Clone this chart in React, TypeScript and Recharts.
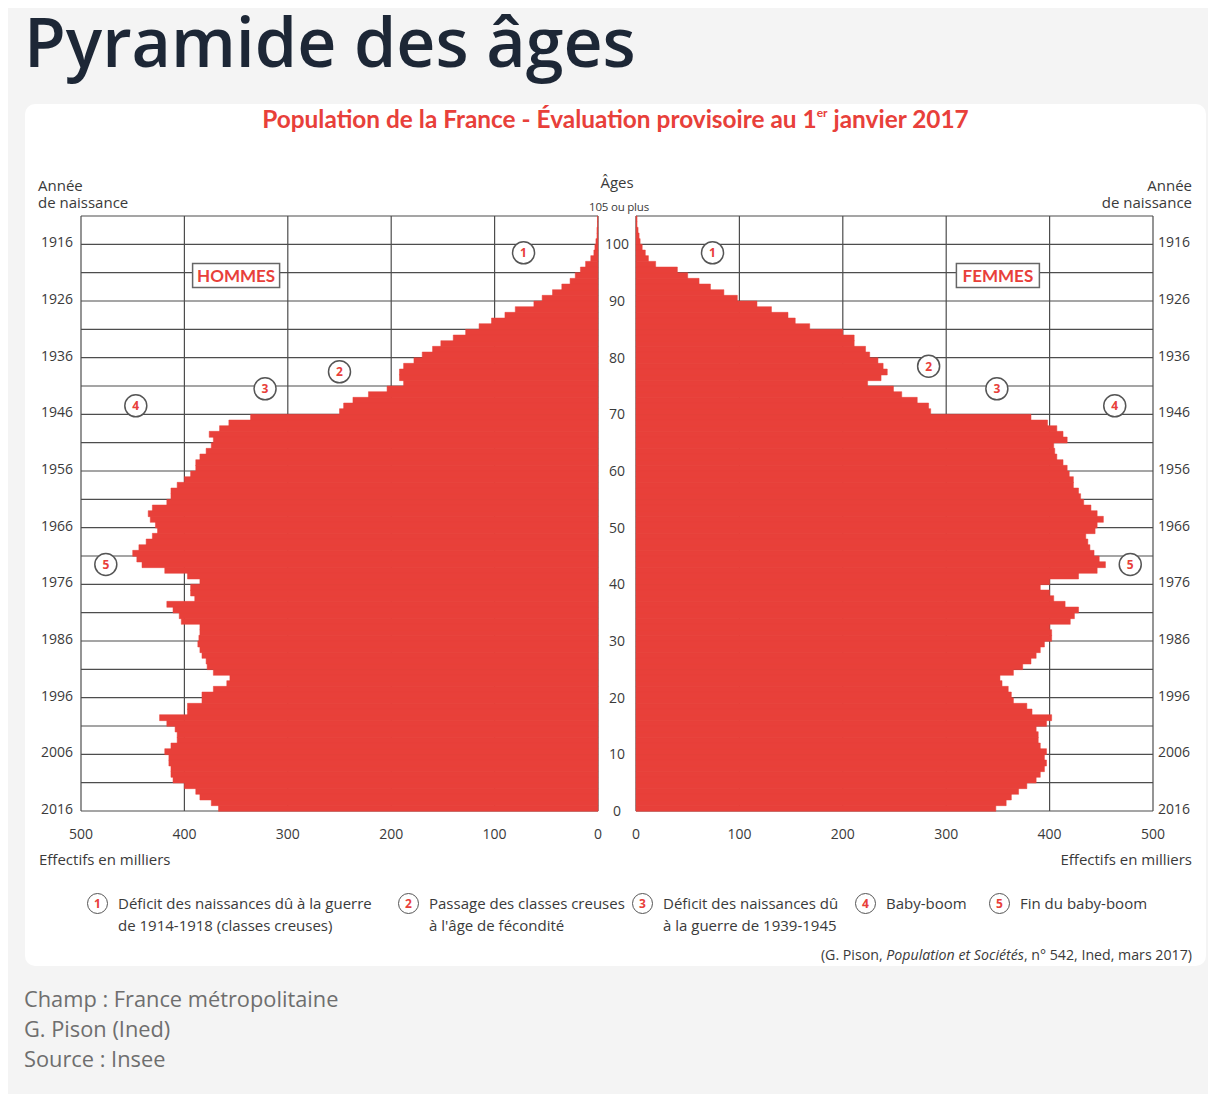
import React from 'react';
import { BarChart, Bar, XAxis, YAxis, CartesianGrid, ReferenceDot } from 'recharts';

// ---------- DATA ----------
const ages = [
  0, 1, 2, 3, 4, 5, 6, 7, 8, 9, 10, 11, 12, 13, 14, 15, 16, 17, 18, 19,
  20, 21, 22, 23, 24, 25, 26, 27, 28, 29, 30, 31, 32, 33, 34, 35, 36, 37, 38, 39,
  40, 41, 42, 43, 44, 45, 46, 47, 48, 49, 50, 51, 52, 53, 54, 55, 56, 57, 58, 59,
  60, 61, 62, 63, 64, 65, 66, 67, 68, 69, 70, 71, 72, 73, 74, 75, 76, 77, 78, 79,
  80, 81, 82, 83, 84, 85, 86, 87, 88, 89, 90, 91, 92, 93, 94, 95, 96, 97, 98, 99,
  100, 101, 102, 103, 104,
];

// Effectifs en milliers (hommes), âge 0 -> 104
const hommes = [
  367, 374, 385, 389, 400, 411, 413, 413, 415, 415,
  419, 413, 407, 407, 409, 417, 424, 397, 397, 383,
  383, 372, 359, 356, 372, 378, 379, 383, 385, 387,
  386, 385, 385, 403, 405, 411, 417, 390, 394, 394,
  385, 397, 419, 441, 446, 450, 444, 437, 431, 426,
  428, 433, 435, 431, 417, 413, 413, 407, 400, 394,
  389, 389, 385, 379, 374, 372, 376, 366, 357, 336,
  250, 246, 237, 222, 204, 188, 192, 192, 188, 178,
  170, 160, 152, 140, 128, 115, 103, 90, 80, 62,
  54, 44, 35, 27, 22, 17, 12, 7, 4, 3,
  2, 1, 1, 0.5, 0.5,
];

// Effectifs en milliers (femmes), âge 0 -> 104
const femmes = [
  348, 358, 363, 370, 378, 387, 391, 395, 397, 395,
  397, 391, 389, 389, 387, 397, 402, 383, 378, 365,
  363, 360, 354, 352, 365, 374, 382, 387, 391, 395,
  402, 402, 400, 420, 424, 428, 415, 404, 400, 391,
  400, 428, 446, 454, 448, 443, 439, 437, 435, 444,
  446, 452, 446, 440, 433, 430, 428, 423, 423, 419,
  417, 413, 407, 405, 404, 417, 413, 407, 398, 382,
  285, 283, 272, 257, 249, 224, 237, 243, 239, 234,
  226, 222, 211, 211, 200, 168, 154, 147, 131, 117,
  98, 85, 72, 61, 50, 40, 19, 12, 9, 6,
  4, 3, 2, 1, 1,
];

const xTicks = [0, 100, 200, 300, 400, 500];
const ageGridLines = [0, 5, 10, 15, 20, 25, 30, 35, 40, 45, 50, 55, 60, 65, 70, 75, 80, 85, 90, 95, 100, 105];
const REF_YEAR = 2016;

// Annotations: age band (category) on which the marker is centred
const notesHommes = [
  { n: 1, value: 72, age: 98 },
  { n: 2, value: 250, age: 77 },
  { n: 3, value: 322, age: 74 },
  { n: 4, value: 447, age: 71 },
  { n: 5, value: 476, age: 43 },
];
const notesFemmes = [
  { n: 1, value: 74, age: 98 },
  { n: 2, value: 283, age: 78 },
  { n: 3, value: 349, age: 74 },
  { n: 4, value: 463, age: 71 },
  { n: 5, value: 478, age: 43 },
];
const sexLabels = [
  { text: 'HOMMES', value: 350, age: 94, w: 87 },
  { text: 'FEMMES', value: 350, age: 94, w: 83 },
];

const legendItems = [
  { n: 1, x: 90, lines: ['Déficit des naissances dû à la guerre', 'de 1914-1918 (classes creuses)'] },
  { n: 2, x: 401, lines: ['Passage des classes creuses', "à l'âge de fécondité"] },
  { n: 3, x: 635, lines: ['Déficit des naissances dû', 'à la guerre de 1939-1945'] },
  { n: 4, x: 858, lines: ['Baby-boom'] },
  { n: 5, x: 992, lines: ['Fin du baby-boom'] },
];

const tableau = ages.map((a, i) => ({ age: a, hommes: hommes[i], femmes: femmes[i] }));
const LAST_AGE = ages[ages.length - 1];

// ---------- STYLE ----------
const RED = '#e8403a';
const GRID = '#4d4d4d';
const TXT = '#3a3a3a';
const FONT = "'Open Sans', sans-serif";
const TITLE_FONT = "Lato, 'Open Sans', sans-serif";

const CHART_H = 660;
const PLOT_TOP = 26;
const PLOT_BOTTOM = 621;

// horizontal grid lines at band boundaries (every 5 years), from the chart's plot offset
const gridRows = (p: any) => {
  const o = p && p.offset ? p.offset : { top: PLOT_TOP, height: PLOT_BOTTOM - PLOT_TOP };
  return ageGridLines.map((a) => o.top + o.height * (1 - a / ages.length));
};

// ---------- TICKS ----------
const half = (payload: any) => (payload && typeof payload.offset === 'number' ? payload.offset : 2.83);

const AgeTick = (props: any) => {
  const { y, payload } = props;
  const v = payload.value;
  const h = half(payload);
  if (v === LAST_AGE) {
    return (
      <text x={599} y={y - h - 5} textAnchor="middle" fontSize={11.5} fill={TXT} fontFamily={FONT} letterSpacing={-0.2}>
        105 ou plus
      </text>
    );
  }
  if (v % 10 !== 0) return null;
  return (
    <text x={597} y={y + h + 5} textAnchor="middle" fontSize={14} fill={TXT} fontFamily={FONT}>
      {v}
    </text>
  );
};

const YearTickLeft = (props: any) => {
  const { y, payload } = props;
  const v = payload.value;
  if (v % 10 !== 0) return null;
  return (
    <text x={53} y={y + half(payload) + 3} textAnchor="end" fontSize={14} fill={TXT} fontFamily={FONT}>
      {REF_YEAR - v}
    </text>
  );
};

const YearTickRight = (props: any) => {
  const { y, payload } = props;
  const v = payload.value;
  if (v % 10 !== 0) return null;
  return (
    <text x={562} y={y + half(payload) + 3} textAnchor="start" fontSize={14} fill={TXT} fontFamily={FONT}>
      {REF_YEAR - v}
    </text>
  );
};

const XTick = (props: any) => {
  const { x, payload } = props;
  return (
    <text x={x} y={PLOT_BOTTOM + 28} textAnchor="middle" fontSize={14} fill={TXT} fontFamily={FONT}>
      {payload.value}
    </text>
  );
};

const markerShape = (n: number) => (p: any) => (
  <g>
    <circle cx={p.cx} cy={p.cy} r={11} fill="#fff" stroke="#555" strokeWidth={1.5} />
    <text x={p.cx} y={p.cy + 4.5} textAnchor="middle" fontSize={12} fontWeight={700} fill={RED} fontFamily={FONT}>
      {n}
    </text>
  </g>
);

const boxShape = (text: string, w: number) => (p: any) => (
  <g>
    <rect x={p.cx - w / 2} y={p.cy - 12} width={w} height={24} fill="#fff" stroke="#666" strokeWidth={1.5} />
    <text x={p.cx} y={p.cy + 6} textAnchor="middle" fontSize={17} fontWeight={700} fill={RED} fontFamily={TITLE_FONT}>
      {text}
    </text>
  </g>
);

// ---------- CHARTS ----------
const ChartHommes = () => (
  <BarChart
    width={645}
    height={CHART_H}
    data={tableau}
    layout="vertical"
    barCategoryGap={0}
    barGap={0}
    margin={{ top: PLOT_TOP, right: 0, bottom: 0, left: 0 }}
  >
    <CartesianGrid yAxisId="cat" stroke={GRID} strokeWidth={1.2} horizontalCoordinatesGenerator={gridRows} />
    <XAxis
      type="number"
      domain={[0, 500]}
      ticks={xTicks}
      reversed
      axisLine={false}
      tickLine={false}
      height={CHART_H - PLOT_BOTTOM}
      tick={<XTick />}
      interval={0}
    />
    <YAxis
      yAxisId="cat"
      type="category"
      dataKey="age"
      reversed
      orientation="left"
      width={61}
      axisLine={false}
      tickLine={false}
      tick={<YearTickLeft />}
      interval={0}
    />
    <YAxis
      yAxisId="ages"
      type="category"
      dataKey="age"
      reversed
      orientation="right"
      width={67}
      axisLine={false}
      tickLine={false}
      tick={<AgeTick />}
      interval={0}
    />
    <Bar yAxisId="cat" dataKey="hommes" fill={RED} stroke={RED} strokeWidth={0.5} isAnimationActive={false} />
    {notesHommes.map((m) => (
      <ReferenceDot key={m.n} yAxisId="cat" x={m.value} y={m.age} r={11} shape={markerShape(m.n)} />
    ))}
    <ReferenceDot
      yAxisId="cat"
      x={sexLabels[0].value}
      y={sexLabels[0].age}
      r={11}
      shape={boxShape(sexLabels[0].text, sexLabels[0].w)}
    />
  </BarChart>
);

const ChartFemmes = () => (
  <BarChart
    width={612}
    height={CHART_H}
    data={tableau}
    layout="vertical"
    barCategoryGap={0}
    barGap={0}
    margin={{ top: PLOT_TOP, right: 0, bottom: 0, left: 40 }}
  >
    <CartesianGrid yAxisId="cat" stroke={GRID} strokeWidth={1.2} horizontalCoordinatesGenerator={gridRows} />
    <XAxis
      type="number"
      domain={[0, 500]}
      ticks={xTicks}
      axisLine={false}
      tickLine={false}
      height={CHART_H - PLOT_BOTTOM}
      tick={<XTick />}
      interval={0}
    />
    <YAxis
      yAxisId="cat"
      type="category"
      dataKey="age"
      reversed
      orientation="right"
      width={55}
      axisLine={false}
      tickLine={false}
      tick={<YearTickRight />}
      interval={0}
    />
    <Bar yAxisId="cat" dataKey="femmes" fill={RED} stroke={RED} strokeWidth={0.5} isAnimationActive={false} />
    {notesFemmes.map((m) => (
      <ReferenceDot key={m.n} yAxisId="cat" x={m.value} y={m.age} r={11} shape={markerShape(m.n)} />
    ))}
    <ReferenceDot
      yAxisId="cat"
      x={sexLabels[1].value}
      y={sexLabels[1].age}
      r={11}
      shape={boxShape(sexLabels[1].text, sexLabels[1].w)}
    />
  </BarChart>
);

// ---------- PAGE ----------
const abs = (left: number, top: number, extra: React.CSSProperties = {}): React.CSSProperties => ({
  position: 'absolute',
  left,
  top,
  whiteSpace: 'nowrap',
  ...extra,
});

const circleStyle = (cx: number, cy: number): React.CSSProperties => ({
  position: 'absolute',
  left: cx - 11,
  top: cy - 11,
  width: 19,
  height: 19,
  borderRadius: '50%',
  border: '1.5px solid #555',
  background: '#fff',
  color: RED,
  fontFamily: FONT,
  fontWeight: 700,
  fontSize: 12,
  lineHeight: '19px',
  textAlign: 'center',
});

export default function App() {
  return (
    <div
      style={{
        position: 'relative',
        width: 1208,
        height: 1086,
        background: '#f4f4f4',
        fontFamily: FONT,
      }}
    >
      <div
        style={abs(16, 0, {
          fontFamily: "'Open Sans', sans-serif",
          fontWeight: 600,
          fontSize: 68,
          lineHeight: '66px',
          color: '#1d2736',
        })}
      >
        Pyramide des âges
      </div>

      <div
        style={{
          position: 'absolute',
          left: 17,
          top: 96,
          width: 1181,
          height: 862,
          background: '#fff',
          borderRadius: 10,
        }}
      />

      <div
        style={abs(17, 98, {
          width: 1181,
          textAlign: 'center',
          color: RED,
          fontFamily: TITLE_FONT,
          fontWeight: 700,
          fontSize: 24.4,
          lineHeight: '26px',
        })}
      >
        Population de la France - Évaluation provisoire au 1
        <span style={{ fontSize: 12, verticalAlign: 'top', lineHeight: '14px' }}>er</span> janvier 2017
      </div>

      <div style={abs(30, 169, { fontSize: 15, lineHeight: '17px', color: TXT })}>
        Année
        <br />
        de naissance
      </div>
      <div style={abs(1208 - 24 - 200, 169, { width: 200, textAlign: 'right', fontSize: 15, lineHeight: '17px', color: TXT })}>
        Année
        <br />
        de naissance
      </div>
      <div style={abs(559, 166, { width: 100, textAlign: 'center', fontSize: 15, lineHeight: '16px', color: TXT })}>
        Âges
      </div>

      <div style={{ position: 'absolute', left: 12, top: 182 }}>
        <ChartHommes />
      </div>
      <div style={{ position: 'absolute', left: 588, top: 182 }}>
        <ChartFemmes />
      </div>

      <div style={abs(31, 843, { fontSize: 15, lineHeight: '17px', color: TXT })}>Effectifs en milliers</div>
      <div style={abs(1184 - 300, 843, { width: 300, textAlign: 'right', fontSize: 15, lineHeight: '17px', color: TXT })}>
        Effectifs en milliers
      </div>

      {legendItems.map((it) => (
        <React.Fragment key={it.n}>
          <div style={circleStyle(it.x, 896)}>{it.n}</div>
          <div style={abs(it.x + 20, 884, { fontSize: 15, lineHeight: '22px', color: TXT })}>
            {it.lines.map((l, i) => (
              <div key={i}>{l}</div>
            ))}
          </div>
        </React.Fragment>
      ))}

      <div style={abs(1184 - 500, 938, { width: 500, textAlign: 'right', fontSize: 14.2, lineHeight: '18px', color: TXT })}>
        (G. Pison, <i>Population et Sociétés</i>, n° 542, Ined, mars 2017)
      </div>

      <div
        style={abs(16, 976, {
          fontFamily: "'Open Sans', sans-serif",
          fontSize: 21.8,
          lineHeight: '30px',
          color: '#6e6e6e',
        })}
      >
        <div>Champ : France métropolitaine</div>
        <div>G. Pison (Ined)</div>
        <div>Source : Insee</div>
      </div>
    </div>
  );
}
